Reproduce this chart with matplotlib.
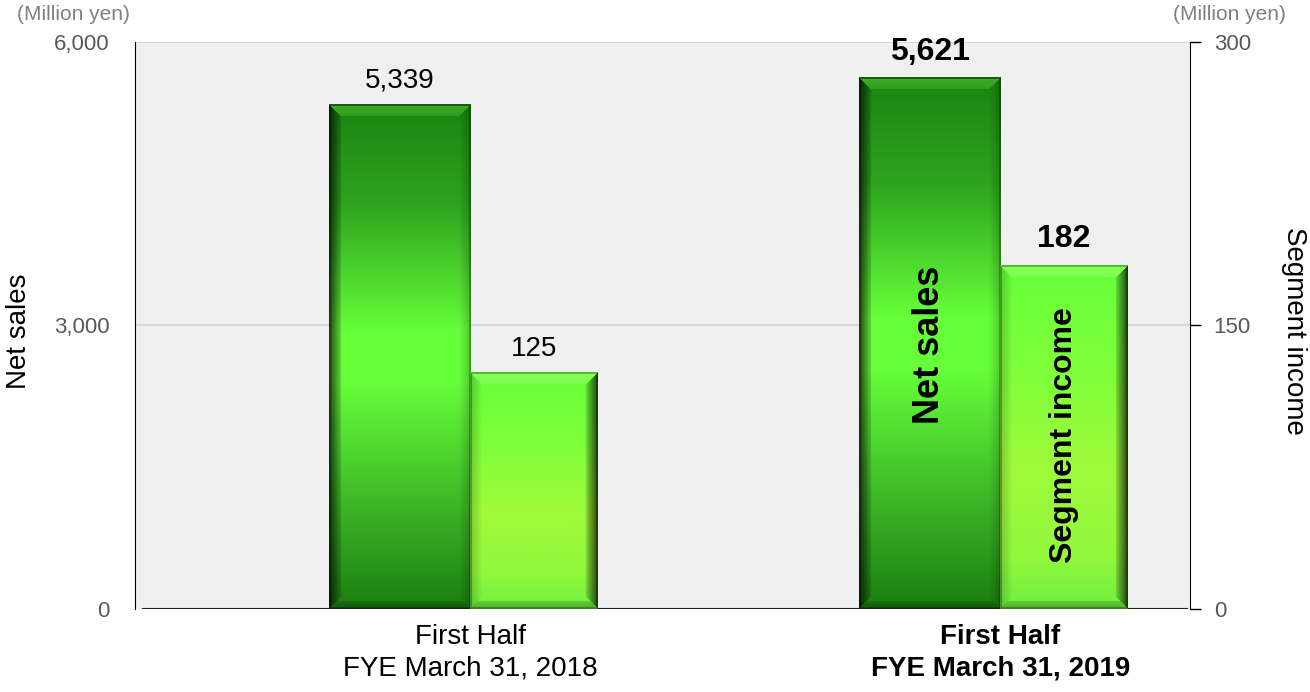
import numpy as np
import matplotlib.pyplot as plt
from matplotlib.colors import to_rgb

plt.rcParams['font.family'] = ['Liberation Sans', 'DejaVu Sans']

# data
periods = ['First Half\nFYE March 31, 2018', 'First Half\nFYE March 31, 2019']
net_sales = [5339, 5621]
segment_income = [125, 182]
net_sales_labels = ['5,339', '5,621']
income_labels = ['125', '182']
left_ticks = [0, 3000, 6000]
left_ticklabels = ['0', '3,000', '6,000']
right_ticks = [0, 150, 300]
right_ticklabels = ['0', '150', '300']

# gradient stops (top -> bottom)
dark_stops = [(0.0, '#1a8412'), (0.2, '#2ea41e'), (0.45, '#66ff3a'),
              (0.55, '#66ff3a'), (0.8, '#3cb526'), (1.0, '#1a7d10')]
light_stops = [(0.0, '#66ff3a'), (0.3, '#7eff3a'), (0.6, '#a0fb3c'),
               (0.85, '#92f83c'), (1.0, '#6ef040')]


def shade_bar(axis, patch, stops, hilite, bev=12):
    x0, y0 = patch.get_x(), patch.get_y()
    w, h = patch.get_width(), patch.get_height()
    p0 = axis.transData.transform((x0, y0))
    p1 = axis.transData.transform((x0 + w, y0 + h))
    wp = max(int(round(abs(p1[0] - p0[0]))), 2)
    hp = max(int(round(abs(p1[1] - p0[1]))), 2)
    pos = [s[0] for s in stops]
    cols = np.array([to_rgb(s[1]) for s in stops])
    t = np.linspace(0, 1, hp)
    col = np.stack([np.interp(t, pos, cols[:, k]) for k in range(3)], axis=1)
    img = np.repeat(col[:, None, :], wp, axis=1)

    yy, xx = np.mgrid[0:hp, 0:wp]
    d = np.stack([yy, hp - 1 - yy, xx, wp - 1 - xx])
    face = np.argmin(d, axis=0)
    dmin = np.min(d, axis=0)
    fr = np.clip(dmin / bev, 0, 1)
    fac = np.ones((hp, wp))
    light = np.zeros((hp, wp))
    inb = dmin < bev
    # top face lighter
    m = inb & (face == 0)
    light[m] = 0.35 * (1 - 0.5 * fr[m])
    # bottom face darker
    m = (dmin < 8) & (face == 1)
    fac[m] = 0.72 + 0.2 * fr[m]
    # left face slightly darker
    m = inb & (face == 2)
    fac[m] = 0.8 + 0.2 * fr[m]
    # right face dark
    m = inb & (face == 3)
    fac[m] = 0.3 + 0.6 * fr[m]
    # thin outline
    edge = dmin < 1.5
    fac[edge] *= 0.75
    light[edge] = 0
    img = img * fac[:, :, None]
    hl = np.array(to_rgb(hilite))
    img = img + (hl - img) * light[:, :, None]
    axis.imshow(np.clip(img, 0, 1), extent=(x0, x0 + w, y0, y0 + h),
                origin='upper', aspect='auto', zorder=3, interpolation='bilinear')


fig = plt.figure(figsize=(13.1, 6.92), dpi=100)
ax = fig.add_axes([0.103, 0.12, 0.8055, 0.8194])
ax2 = ax.twinx()
ax.set_facecolor('#f0f0f0')
ax2.patch.set_visible(False)

x = np.arange(len(periods))
w_dark = 0.266
w_light = 0.240
xlim = (-0.632, 1.358)

ax.set_xlim(xlim)
ax.set_ylim(0, 6000)
ax2.set_ylim(0, 300)

bars1 = ax.bar(x, net_sales, width=-w_dark, align='edge', color='none', zorder=3)
bars2 = ax2.bar(x, segment_income, width=w_light, align='edge', color='none', zorder=3)

for p in bars1:
    shade_bar(ax, p, dark_stops, '#7fff50')
for p in bars2:
    shade_bar(ax2, p, light_stops, '#d0ffa0')

ax.set_xlim(xlim)
ax.set_ylim(0, 6000)
ax2.set_ylim(0, 300)

# value labels
for i, p in enumerate(bars1):
    ax.annotate(net_sales_labels[i], (p.get_x() + p.get_width() / 2, p.get_height()),
                xytext=(0, 8), textcoords='offset points', ha='center', va='bottom',
                fontsize=23 if i == 1 else 20, fontweight='bold' if i == 1 else 'normal')
for i, p in enumerate(bars2):
    ax2.annotate(income_labels[i], (p.get_x() + p.get_width() / 2, p.get_height()),
                 xytext=(0, 8), textcoords='offset points', ha='center', va='bottom',
                 fontsize=23 if i == 1 else 20, fontweight='bold' if i == 1 else 'normal')

# series names inside the latest bars
p = bars1[1]
ax.text(p.get_x() + p.get_width() / 2, 2800, 'Net sales', rotation=90, ha='center',
        va='center', fontsize=26, fontweight='bold', zorder=5)
p = bars2[1]
ax2.text(p.get_x() + p.get_width() / 2, 92, 'Segment income', rotation=90, ha='center',
         va='center', fontsize=23, fontweight='bold', zorder=5)

# grid and baseline
for v in left_ticks[1:]:
    ax.axhline(v, color='#d9d9d9', lw=1.5, zorder=1)
ax.axhline(0, xmin=0.0076, xmax=0.997, color='#222222', lw=1.5, zorder=4)

# axes styling
for a in (ax, ax2):
    for s in ('top', 'bottom'):
        a.spines[s].set_visible(False)
ax.spines['right'].set_visible(False)
ax2.spines['left'].set_visible(False)
ax.spines['left'].set_color('black')
ax2.spines['right'].set_color('black')

ax.set_yticks(left_ticks)
ax.set_yticklabels(left_ticklabels)
ax.tick_params(axis='y', length=0, pad=18, labelsize=16, labelcolor='#595959')
ax2.set_yticks(right_ticks)
ax2.set_yticklabels(right_ticklabels)
ax2.tick_params(axis='y', length=8, width=1, direction='out', pad=9,
                labelsize=16, labelcolor='#595959')

ax.set_xticks(x)
ax.set_xticklabels(periods, fontsize=20, linespacing=1.25)
ax.tick_params(axis='x', length=0, pad=11)
ax.get_xticklabels()[1].set_fontweight('bold')

ax.set_ylabel('Net sales', fontsize=20)
ax.yaxis.set_label_coords(-0.098, 0.49)
ax2.set_ylabel('Segment income', fontsize=20, rotation=270, va='center', ha='center')
ax2.yaxis.set_label_coords(1.098, 0.49)

fig.text(73 / 1310, 1 - 15 / 692, '(Million yen)', ha='center', va='center',
         fontsize=15, color='#808080')
fig.text(1229 / 1310, 1 - 15 / 692, '(Million yen)', ha='center', va='center',
         fontsize=15, color='#808080')

fig.savefig('out.png', dpi=100)
